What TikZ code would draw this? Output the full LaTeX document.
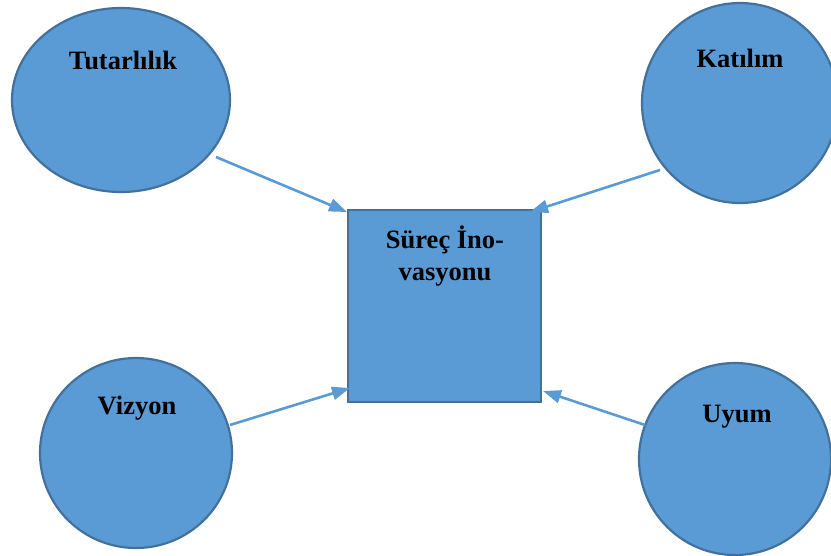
\documentclass[tikz,border=0pt]{standalone}
\usepackage{fontspec}
\setmainfont{Liberation Serif}
\usetikzlibrary{shapes.geometric,arrows.meta}
\definecolor{fillblue}{HTML}{5B9BD5}
\definecolor{edgeblue}{HTML}{41719C}
\tikzset{
  blob/.style={ellipse,draw=edgeblue,fill=fillblue,line width=2.2pt,inner sep=0pt},
  boxnode/.style={rectangle,draw=edgeblue,fill=fillblue,line width=2.2pt,inner sep=0pt,minimum width=193pt,minimum height=192pt},
  lbl/.style={font=\fontsize{26.5}{32}\selectfont\bfseries,align=center,inner sep=0pt,text=black},
  conn/.style={draw=fillblue,line width=2.6pt,-{Triangle[length=18pt,width=13pt]}}
}
\begin{document}
\begin{tikzpicture}[x=1pt,y=-1pt]
\useasboundingbox (0,0) rectangle (831,555);
\clip (0,0) rectangle (831,555);
\node[blob,minimum width=218pt,minimum height=184pt] (tut) at (121,100) {};
\node[blob,minimum width=196pt,minimum height=200pt] (kat) at (740,103) {};
\node[blob,minimum width=192pt,minimum height=190pt] (viz) at (136,453) {};
\node[blob,minimum width=192pt,minimum height=192pt] (uyu) at (735,459) {};
\node[boxnode] (sq) at (444.5,306) {};
\node[lbl] (tutl) at (123,60) {Tutarlılık};
\node[lbl] (katl) at (740,58) {Katılım};
\node[lbl] (vizl) at (137,408) {Vizyon};
\node[lbl] (uyul) at (737,417) {Uyum};
\node[lbl] (sql) at (445,256) {Süreç İno-\\vasyonu};
\coordinate (a1) at (216,157);
\coordinate (b1) at (347,212);
\coordinate (a2) at (660,170);
\coordinate (b2) at (530,212);
\coordinate (a3) at (230,425);
\coordinate (b3) at (350,388);
\coordinate (a4) at (645,425);
\coordinate (b4) at (543,391);
\draw[conn] (a1) -- (b1);
\draw[conn] (a2) -- (b2);
\draw[conn] (a3) -- (b3);
\draw[conn] (a4) -- (b4);
\end{tikzpicture}
\end{document}
